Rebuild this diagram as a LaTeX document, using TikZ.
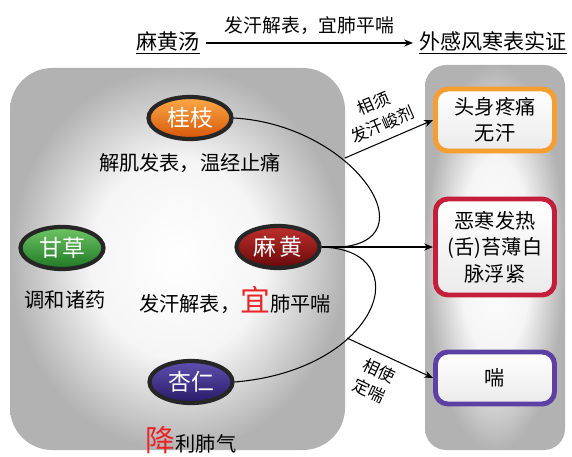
\documentclass[tikz,border=0pt]{standalone}
\usepackage{fontspec}
\setmainfont{Noto Sans CJK SC}
\usetikzlibrary{shapes.geometric,arrows.meta}

\definecolor{guizhiTop}{RGB}{252,170,72}
\definecolor{guizhiBot}{RGB}{214,86,8}
\definecolor{gancaoTop}{RGB}{112,196,100}
\definecolor{gancaoBot}{RGB}{30,120,36}
\definecolor{mahuangTop}{RGB}{190,48,44}
\definecolor{mahuangBot}{RGB}{104,8,10}
\definecolor{xingrenTop}{RGB}{96,80,176}
\definecolor{xingrenBot}{RGB}{40,26,104}
\definecolor{lineOrange}{RGB}{246,158,48}
\definecolor{lineRed}{RGB}{196,30,58}
\definecolor{linePurple}{RGB}{92,64,164}
\definecolor{keyRed}{RGB}{232,38,42}

\pgfdeclareradialshading{panelShade}{\pgfpoint{0bp}{0bp}}{%
    color(0bp)=(white); color(13bp)=(white!96!black);
    color(25bp)=(black!30); color(50bp)=(black!30)}

\tikzset{
    herb/.style={ellipse, draw=black!85, line width=2.4pt, minimum width=1.66cm,
        minimum height=0.84cm, inner sep=0pt, text=white,
        font=\fontsize{13}{14}\selectfont},
    effect/.style={font=\fontsize{11.5}{13}\selectfont},
    symptom/.style={draw, rounded corners=7pt, line width=2.8pt,
        top color=white, bottom color=black!8,
        minimum width=2.38cm, align=center, inner sep=2pt,
        font=\fontsize{11.5}{15}\selectfont},
    panel/.style={shading=panelShade},
    link/.style={-{Stealth[length=5pt,width=4pt]}, semithick},
    note/.style={font=\fontsize{9.5}{13}\selectfont, align=center, sloped}
}

\begin{document}
\begin{tikzpicture}
    \useasboundingbox (0, 0) rectangle (11.44, 9.12);

    % panels
    \shade[panel, rounded corners=24pt] (0.2, 0.12) rectangle (6.9, 7.76);
    \shade[panel, rounded corners=12pt] (8.5, 0.12) rectangle (11.3, 7.82);

    % title line
    \node[font=\fontsize{12}{14}\selectfont] (formula) at (3.36, 8.26) {\underline{麻黄汤}};
    \node[font=\fontsize{12}{14}\selectfont] (syndrome) at (9.86, 8.26) {\underline{外感风寒表实证}};
    \draw[link] (formula) -- (syndrome)
        node[midway, above=1pt, font=\fontsize{10.7}{12}\selectfont] {发汗解表，宜肺平喘};

    % herbs
    \node[herb, top color=guizhiTop, bottom color=guizhiBot] (guizhi) at (3.8, 6.76) {桂枝};
    \node[herb, top color=gancaoTop, bottom color=gancaoBot] (gancao) at (1.24, 4.16) {甘草};
    \node[herb, top color=mahuangTop, bottom color=mahuangBot] (mahuang) at (5.56, 4.18) {麻\,黄};
    \node[herb, top color=xingrenTop, bottom color=xingrenBot] (xingren) at (3.82, 1.48) {杏仁};

    \node[effect] (guizhiEff) at (3.8, 5.86) {解肌发表，温经止痛};
    \node[effect] (gancaoEff) at (1.3, 3.12) {调和诸药};
    \node[effect] (mahuangEff) at (4.7, 3.12)
        {发汗解表，{\color{keyRed}\fontsize{17}{17}\selectfont 宜}肺平喘};
    \node[effect] (xingrenEff) at (3.82, 0.32)
        {{\color{keyRed}\fontsize{17}{17}\selectfont 降}利肺气};

    % symptoms
    \node[symptom, draw=lineOrange, minimum height=1.24cm] (pain) at (9.9, 6.72) {头身疼痛\\无汗};
    \node[symptom, draw=lineRed, minimum height=1.92cm] (fever) at (9.9, 4.18) {恶寒发热\\(舌)苔薄白\\脉浮紧};
    \node[symptom, draw=linePurple, minimum height=1.04cm] (asthma) at (9.9, 1.56) {喘};

    % pairings
    \draw[semithick] (guizhi.east) .. controls (7.2, 6.62) and (8.8, 4.02) .. (mahuang.east);
    \draw[semithick] (mahuang.east) .. controls (8.4, 4.12) and (7.6, 1.72) .. (xingren.east);
    \draw[link] (mahuang.east) -- (fever.west);

    \coordinate (xuStart) at (6.9, 5.96);
    \coordinate (shiStart) at (6.94, 2.36);
    \draw[link] (xuStart) -- (pain.west)
        node[note, midway, above=1pt] {相须\\发汗峻剂};
    \draw[link] (shiStart) -- (asthma.west)
        node[note, pos=0.45, below=1pt] {相使\\定喘};
\end{tikzpicture}
\end{document}
